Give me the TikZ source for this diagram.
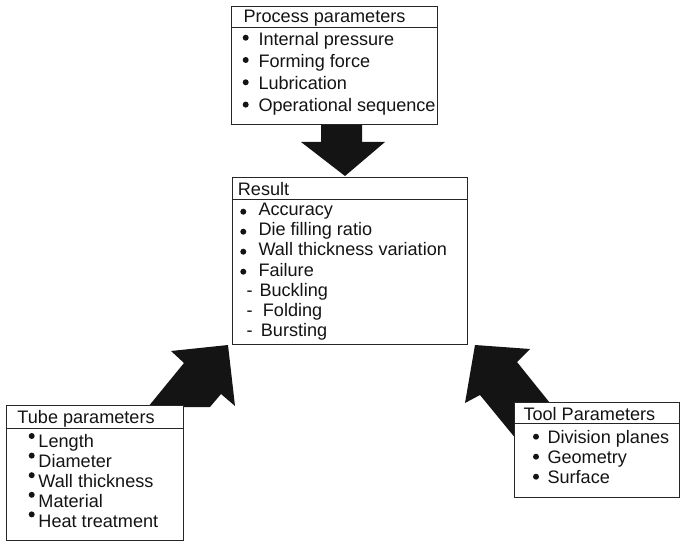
\documentclass[tikz,border=0pt]{standalone}
\usepackage{fontspec}
\setmainfont{Liberation Sans}
\begin{document}
\begin{tikzpicture}[x=1bp, y=-1bp,
  box/.style={draw=black!85, line width=0.9bp, fill=white, inner sep=0pt, anchor=north west},
  txt/.style={anchor=base west, inner sep=0pt, text=black!92,
              font=\fontsize{18.1bp}{21bp}\selectfont},
  blt/.style={circle, fill=black!92, inner sep=0pt, minimum size=6bp},
  blockarrow/.style={fill=black!92, draw=none}]
\useasboundingbox (0,0) rectangle (680,544);

% ---- block arrows (drawn first, boxes cover their tails) ----
\fill[blockarrow] (321,124) -- (362,124) -- (362,142) -- (385,142) -- (345,176)
  -- (301,142) -- (321,142) -- cycle;
\fill[blockarrow] (148,407) -- (184,363) -- (171,351) -- (228,345) -- (235,406)
  -- (221,394) -- (210,407) -- cycle;
\fill[blockarrow] (475,345) -- (530,349) -- (517,362) -- (566,423) -- (530,456)
  -- (480,395) -- (465,403) -- cycle;

% ---- process parameters ----
\node[box, minimum width=206bp, minimum height=21bp] (proctitle) at (231,6) {};
\node[box, minimum width=206bp, minimum height=97bp] (procbody) at (231,27) {};
\node[txt] (proclabel) at (243.3,22.7) {Process parameters};
\foreach \t [count=\i] in {Internal pressure, Forming force, Lubrication, Operational sequence} {
  \node[txt] (proc\i) at (258.3,{45.5+22*(\i-1)}) {\t};
  \node[blt] (procb\i) at (245.7,{37.7+22.3*(\i-1)}) {};
}

% ---- result ----
\node[box, minimum width=235bp, minimum height=22bp] (restitle) at (232,177) {};
\node[box, minimum width=235bp, minimum height=145bp] (resbody) at (232,199) {};
\node[txt] (reslabel) at (237.7,195.7) {Result};
\foreach \t [count=\i] in {Accuracy, Die filling ratio, Wall thickness variation, Failure} {
  \node[txt] (res\i) at (258.3,{215.7+20.15*(\i-1)}) {\t};
  \node[blt] (resb\i) at (243.3,{211.7+20*(\i-1)}) {};
}
\node[txt] (resd1) at (246.5,296.7) {-};
\node[txt] (res5) at (259.3,296.7) {Buckling};
\node[txt] (resd2) at (246.5,316.8) {-};
\node[txt] (res6) at (262.7,316.8) {Folding};
\node[txt] (resd3) at (246.5,336.9) {-};
\node[txt] (res7) at (260.7,336.9) {Bursting};

% ---- tube parameters ----
\node[box, minimum width=177bp, minimum height=23bp] (tubetitle) at (6,405) {};
\node[box, minimum width=177bp, minimum height=112bp] (tubebody) at (6,428) {};
\node[txt] (tubelabel) at (17.3,423.3) {Tube parameters};
\foreach \t [count=\i] in {Length, Diameter, Wall thickness, Material, Heat treatment} {
  \node[txt] (tube\i) at (38.3,{447.3+20*(\i-1)}) {\t};
  \node[blt] (tubeb\i) at (31.7,{436+19.6*(\i-1)}) {};
}

% ---- tool parameters ----
\node[box, minimum width=165bp, minimum height=21bp] (tooltitle) at (514,402) {};
\node[box, minimum width=165bp, minimum height=74bp] (toolbody) at (514,423) {};
\node[txt] (toollabel) at (523.3,420) {Tool Parameters};
\foreach \t [count=\i] in {Division planes, Geometry, Surface} {
  \node[txt] (tool\i) at (547.3,{443.3+20*(\i-1)}) {\t};
  \node[blt] (toolb\i) at (536,{436.7+20*(\i-1)}) {};
}
\end{tikzpicture}
\end{document}
